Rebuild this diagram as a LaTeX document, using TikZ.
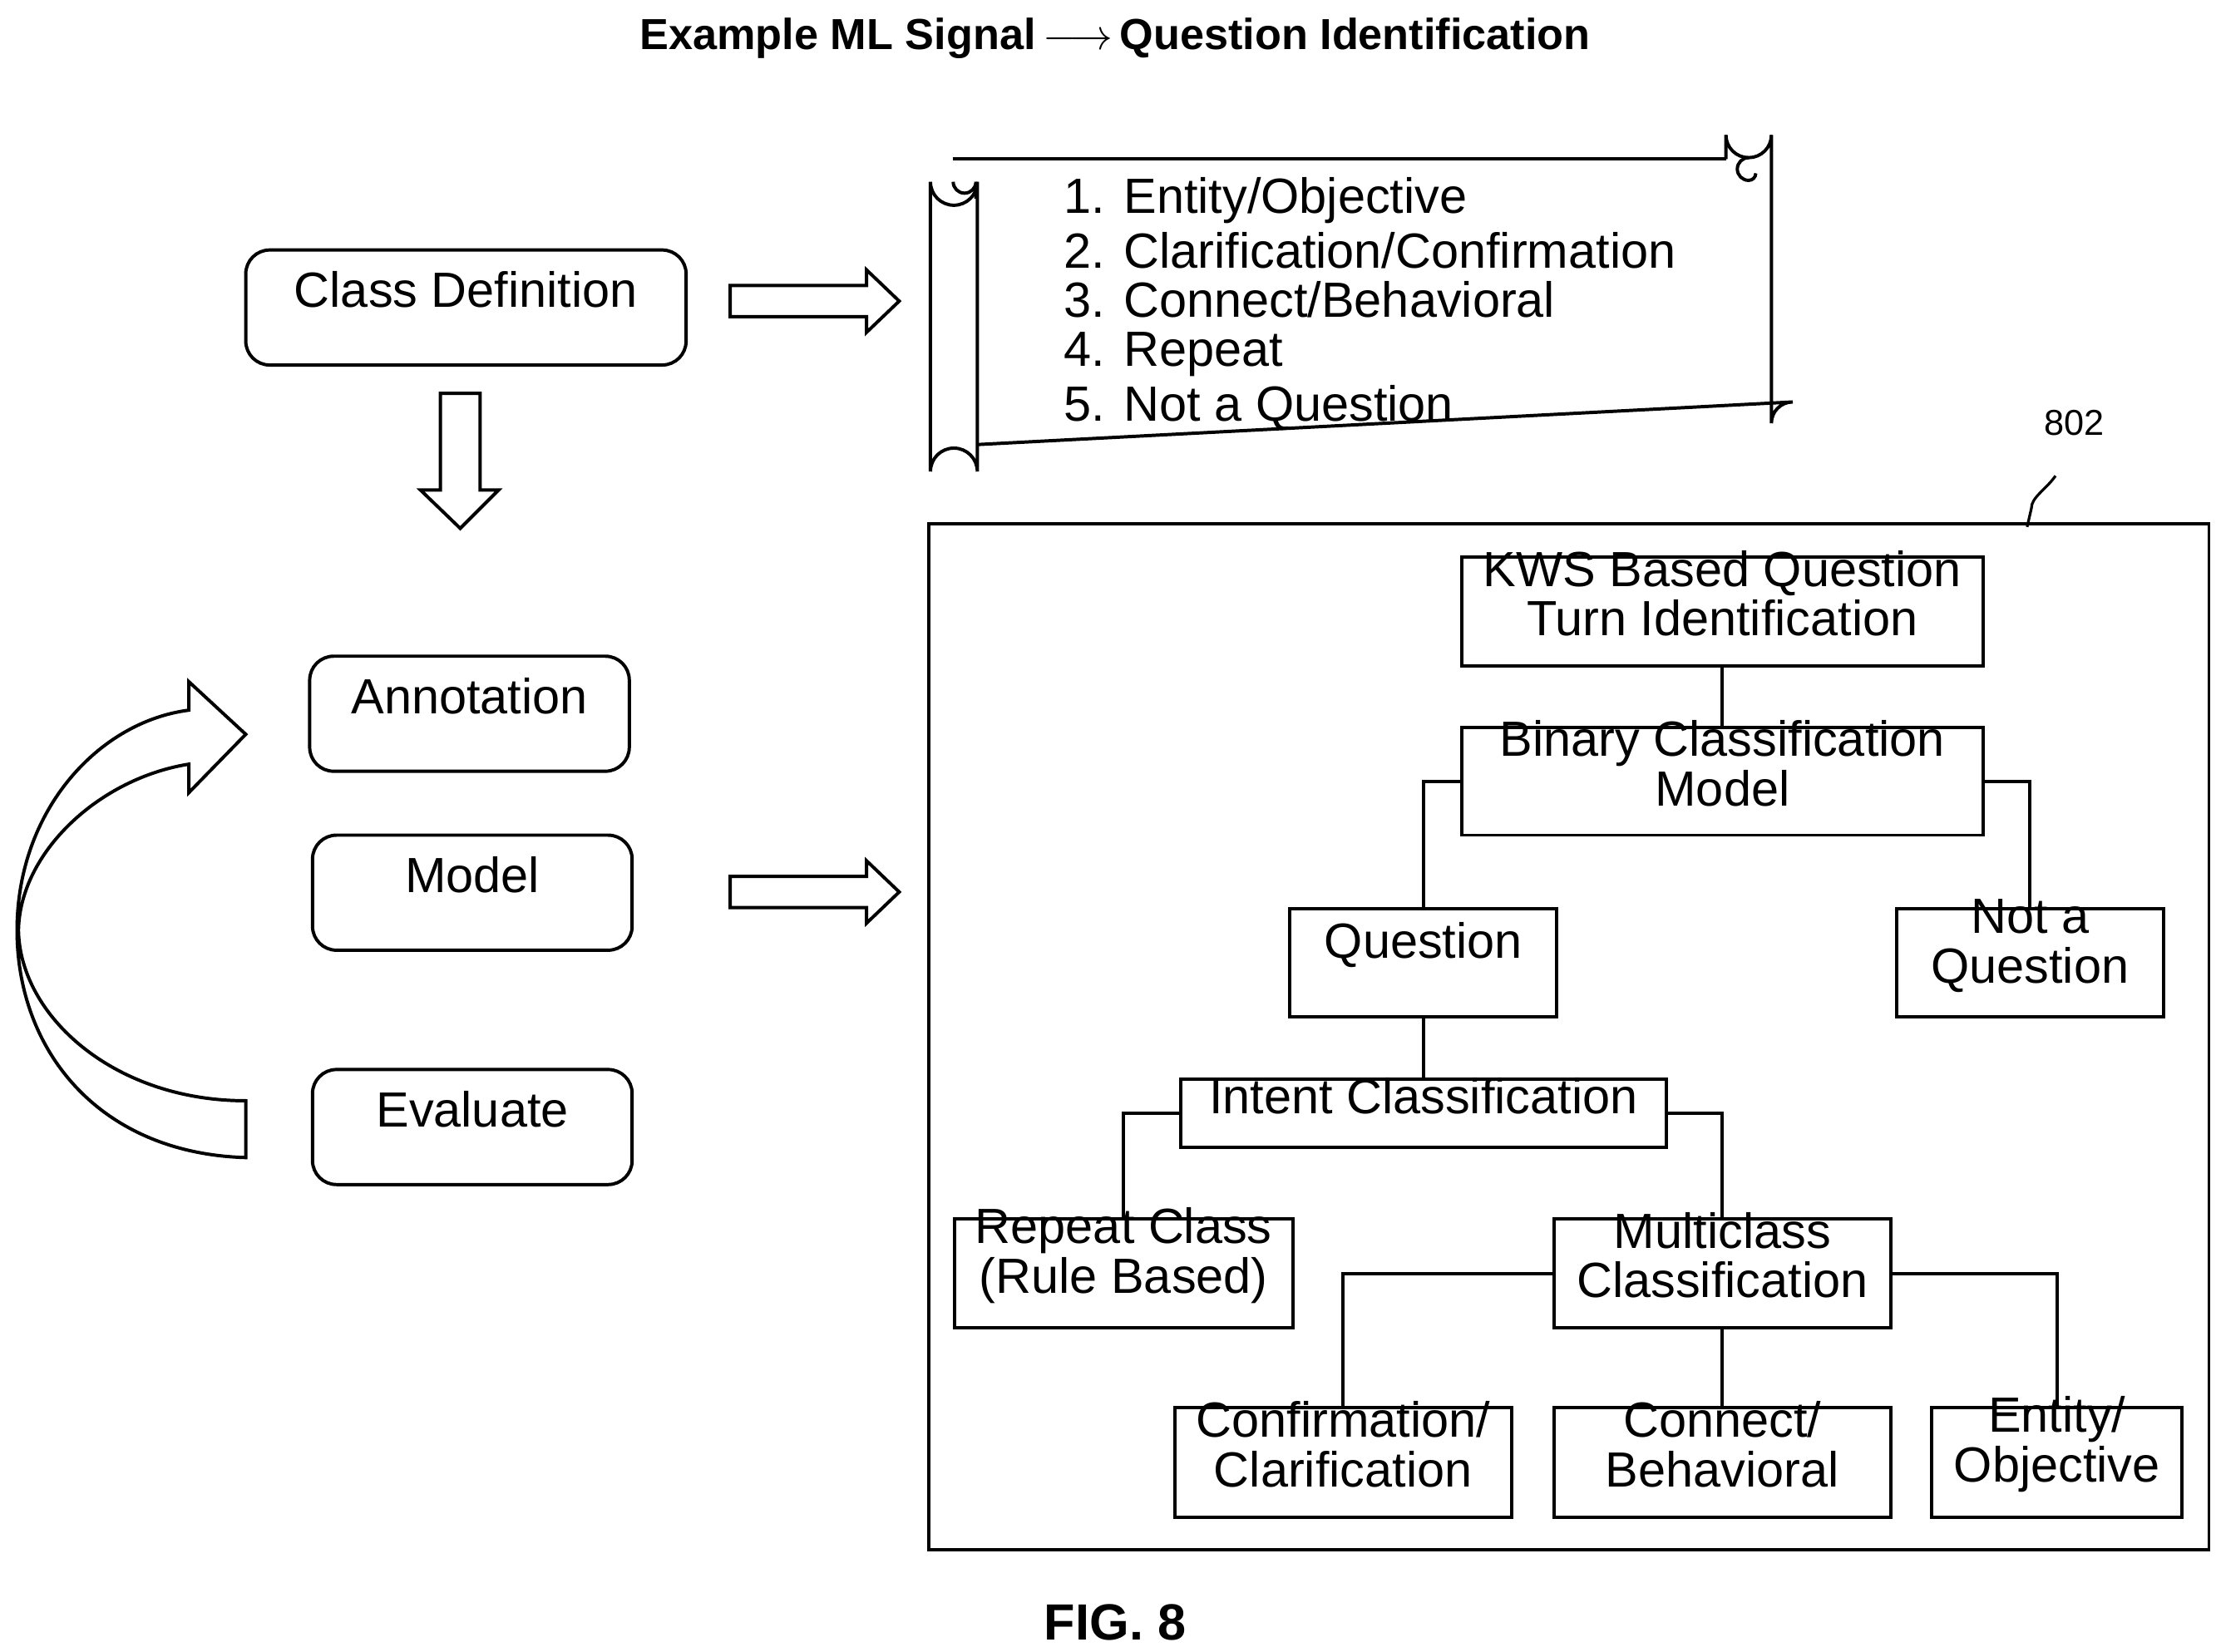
\documentclass[tikz,border=0pt]{standalone}
\usepackage{fontspec}
\setmainfont{Liberation Sans}
\usetikzlibrary{fit}
\begin{document}
\begin{tikzpicture}[x=1cm/60,y=-1cm/60,line width=1.1pt,
  rbox/.style={draw,rounded corners=8pt,inner sep=0pt,font=\fontsize{16.5}{18}\selectfont},
  tbox/.style={draw,inner sep=0pt,align=center,font=\fontsize{16.5}{16.5}\selectfont},
  conn/.style={line width=1.1pt}]
\useasboundingbox (0,0) rectangle (1560,1163);
\node[font=\bfseries\fontsize{14.5}{16}\selectfont] (title) at (785,27) {Example ML Signal\,$\longrightarrow$\,Question Identification};
% left boxes
\node[rbox,fit={(173,176)(483,257)}] (cd) {Class Definition};
\node[rbox,fit={(218,462)(443,543)}] (ann) {Annotation};
\node[rbox,fit={(220,588)(445,669)}] (mod) {Model};
\node[rbox,fit={(220,753)(445,834)}] (ev) {Evaluate};
% hollow arrows
\draw (514,201) -- (610,201) -- (610,190) -- (633,212) -- (610,234) -- (610,223) -- (514,223) -- cycle;
\draw (514,617) -- (610,617) -- (610,606) -- (633,628) -- (610,650) -- (610,639) -- (514,639) -- cycle;
\draw (310,277) -- (338,277) -- (338,345) -- (351,345) -- (324,372) -- (296,345) -- (310,345) -- cycle;
% curved arrow
\draw (173,815) .. controls (70,812) and (12,740) .. (12,655) .. controls (12,570) and (70,508) .. (133,500) -- (133,480) -- (173,517) -- (133,558) -- (133,538) .. controls (70,548) and (14,600) .. (13,655) .. controls (14,715) and (80,775) .. (173,775) -- cycle;
% scroll
\draw (1215,112) -- (1215,95) arc (180:0:16) -- (1247,298) arc (0:90:-15) -- (688,313);
\draw (1231,111) arc (-90:-270:8) arc (90:0:5);
\draw (671,112) -- (1215,112);
\draw (655,128) -- (655,332) arc (180:360:16.5) -- (688,128) arc (0:180:16.5);
\draw (671,128) arc (180:0:8) (687,128) -- (687,140);
\node[anchor=north west,align=left,inner sep=0pt,font=\fontsize{16.5}{19.3}\selectfont] (list) at (748,124) {1. Entity/Objective\\[-1pt]2. Clarification/Confirmation\\[-3pt]3. Connect/Behavioral\\[-3pt]4. Repeat\\[-1pt]5. Not a Question};
% big frame
\node[draw,inner sep=0pt,fit={(654,369)(1555,1091)}] (frame) {};
\node[font=\fontsize{12}{14}\selectfont] (lbl) at (1460,298) {802};
\coordinate (sq) at (1447,335);
\draw[line width=0.9pt] (sq) .. controls (1440,345) and (1430,350) .. (1430,358) -- (1427,371);
% tree
\node[tbox,fit={(1029,392)(1396,469)}] (kws) {KWS Based Question\\Turn Identification};
\node[tbox,fit={(1029,512)(1396,588)}] (bin) {Binary Classification\\Model};
\node[tbox,fit={(908,640)(1096,716)}] (q) {Question};
\node[tbox,fit={(1335,640)(1523,716)}] (nq) {Not a\\Question};
\node[tbox,fit={(831,760)(1173,808)}] (ic) {Intent Classification};
\node[tbox,fit={(672,858)(910,935)}] (rep) {Repeat Class\\(Rule Based)};
\node[tbox,fit={(1094,858)(1331,935)}] (mc) {Multiclass\\Classification};
\node[tbox,fit={(827,991)(1064,1068)}] (cc) {Confirmation/\\Clarification};
\node[tbox,fit={(1094,991)(1331,1068)}] (cb) {Connect/\\Behavioral};
\node[tbox,fit={(1360,991)(1536,1068)}] (eo) {Entity/\\Objective};
\draw[conn] (kws) -- (bin);
\draw[conn] (bin.west) -| (q.north);
\draw[conn] (bin.east) -| (nq.north);
\draw[conn] (q) -- (ic);
\draw[conn] (ic.west) -| (rep.north);
\draw[conn] (ic.east) -| (mc.north);
\draw[conn] (mc.west) -| (cc.north);
\draw[conn] (mc) -- (cb);
\draw[conn] (mc.east) -| (eo.north);
\node[font=\bfseries\fontsize{17}{19}\selectfont] (fig) at (785,1142) {FIG. 8};
\end{tikzpicture}
\end{document}
